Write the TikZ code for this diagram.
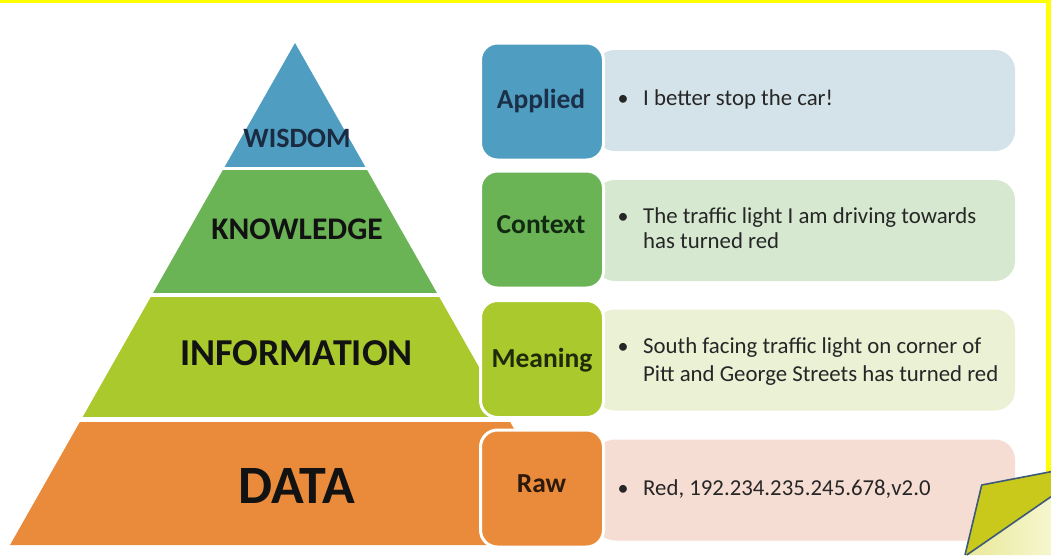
\documentclass[tikz,border=0pt]{standalone}
\usepackage{fontspec}
\setmainfont{Carlito}
\definecolor{cwis}{HTML}{4F9EC1}
\definecolor{ckno}{HTML}{6AB456}
\definecolor{cinf}{HTML}{A9C92C}
\definecolor{cdat}{HTML}{EA8B3B}
\definecolor{pwis}{HTML}{D3E3E9}
\definecolor{pkno}{HTML}{D6E9D0}
\definecolor{pinf}{HTML}{EAF1D4}
\definecolor{pdat}{HTML}{F6DDD3}
\definecolor{txtgray}{HTML}{262626}
\definecolor{pyrtxt}{HTML}{121212}
\definecolor{wistxt}{HTML}{1A2A40}
\definecolor{apptxt}{HTML}{1B3048}
\definecolor{contxt}{HTML}{132A12}
\definecolor{meatxt}{HTML}{1E2A0A}
\definecolor{rawtxt}{HTML}{2E1A0C}
\definecolor{flapc}{HTML}{C9C91C}
\definecolor{flapline}{HTML}{3D5A78}
\definecolor{flaplight}{HTML}{F6F6CF}
\definecolor{frameyellow}{HTML}{FFFF00}
\begin{document}
\begin{tikzpicture}[x=1pt,y=-1pt,
  panel/.style={rounded corners=20pt, minimum width=420pt, minimum height=101pt, inner sep=0pt, draw=none},
  labbox/.style={rounded corners=17pt, minimum width=123pt, minimum height=117pt, inner sep=0pt, draw=white, line width=3pt},
  labtxt/.style={anchor=base, inner sep=0pt, font=\bfseries\fontsize{27.5}{30}\selectfont},
  bodytxt/.style={anchor=base west, inner sep=0pt, text=txtgray, font=\fontsize{22.8}{26}\selectfont},
  bul/.style={anchor=base, inner sep=0pt, text=txtgray, font=\fontsize{22}{26}\selectfont},
  pyrlab/.style={anchor=base, inner sep=0pt, text=pyrtxt}]
\useasboundingbox (0,0) rectangle (1051,555);
\fill[white] (0,0) rectangle (1051,555);
% pyramid
\begin{scope}
  \clip (295,43) -- (10,545) -- (580,545) -- cycle;
  \fill[cwis] (0,0) rectangle (620,167);
  \fill[ckno] (0,170) rectangle (620,293);
  \fill[cinf] (0,297) rectangle (620,417);
  \fill[cdat] (0,422) rectangle (620,555);
\end{scope}
\node[pyrlab, text=wistxt, font=\bfseries\fontsize{28}{30}\selectfont] (wisdom) at (297,147) {WISDOM};
\node[pyrlab, font=\bfseries\fontsize{31.5}{34}\selectfont] (knowledge) at (297,239) {KNOWLEDGE};
\node[pyrlab, font=\bfseries\fontsize{38}{42}\selectfont] (information) at (296.5,365) {INFORMATION};
\node[pyrlab, font=\bfseries\fontsize{54}{58}\selectfont] (data) at (296.5,503) {DATA};
% panels
\node[panel, fill=pwis] (p1) at (805,100.5) {};
\node[panel, fill=pkno] (p2) at (805,230.5) {};
\node[panel, fill=pinf] (p3) at (805,360) {};
\node[panel, fill=pdat] (p4) at (805,490) {};
% label boxes
\node[labbox, fill=cwis] (l1) at (542,101.5) {};
\node[labbox, fill=ckno] (l2) at (542,229.5) {};
\node[labbox, fill=cinf] (l3) at (542,359) {};
\node[labbox, fill=cdat] (l4) at (542,488.5) {};
\node[labtxt, text=apptxt] (l1t) at (541,108) {Applied};
\node[labtxt, text=contxt] (l2t) at (541,233) {Context};
\node[labtxt, text=meatxt] (l3t) at (542,367) {Meaning};
\node[labtxt, text=rawtxt] (l4t) at (541.5,492) {Raw};
% bullets and texts
\node[bul] (b1) at (623,105) {•};
\node[bodytxt] (t1) at (643,105) {I better stop the car!};
\node[bul] (b2) at (623,223) {•};
\node[bodytxt] (t2a) at (643,223) {The traffic light I am driving towards};
\node[bodytxt] (t2b) at (643,248) {has turned red};
\node[bul] (b3) at (623,353) {•};
\node[bodytxt] (t3a) at (643,353) {South facing traffic light on corner of};
\node[bodytxt] (t3b) at (643,381) {Pitt and George Streets has turned red};
\node[bul] (b4) at (623,495) {•};
\node[bodytxt] (t4) at (643,495) {Red, 192.234.235.245.678,v2.0};
% yellow frame
\fill[frameyellow] (0,0) rectangle (1051,3);
\fill[frameyellow] (1046,0) rectangle (1051,472);
% page curl
\shade[left color=flaplight!70!flapc, right color=flaplight] (966.7,555) -- (1051,496.7) -- (1051,555) -- cycle;
\fill[flapc] (981.7,485) -- (1051,471.7) -- (1051,496.7) -- (966.7,555) -- (965,555) -- cycle;
\draw[flapline, line width=1.6pt, line join=round] (965,555) -- (981.7,485) -- (1051,471.7);
\draw[flapline, line width=1.6pt] (966.7,555) -- (1051,496.7);
\end{tikzpicture}
\end{document}
